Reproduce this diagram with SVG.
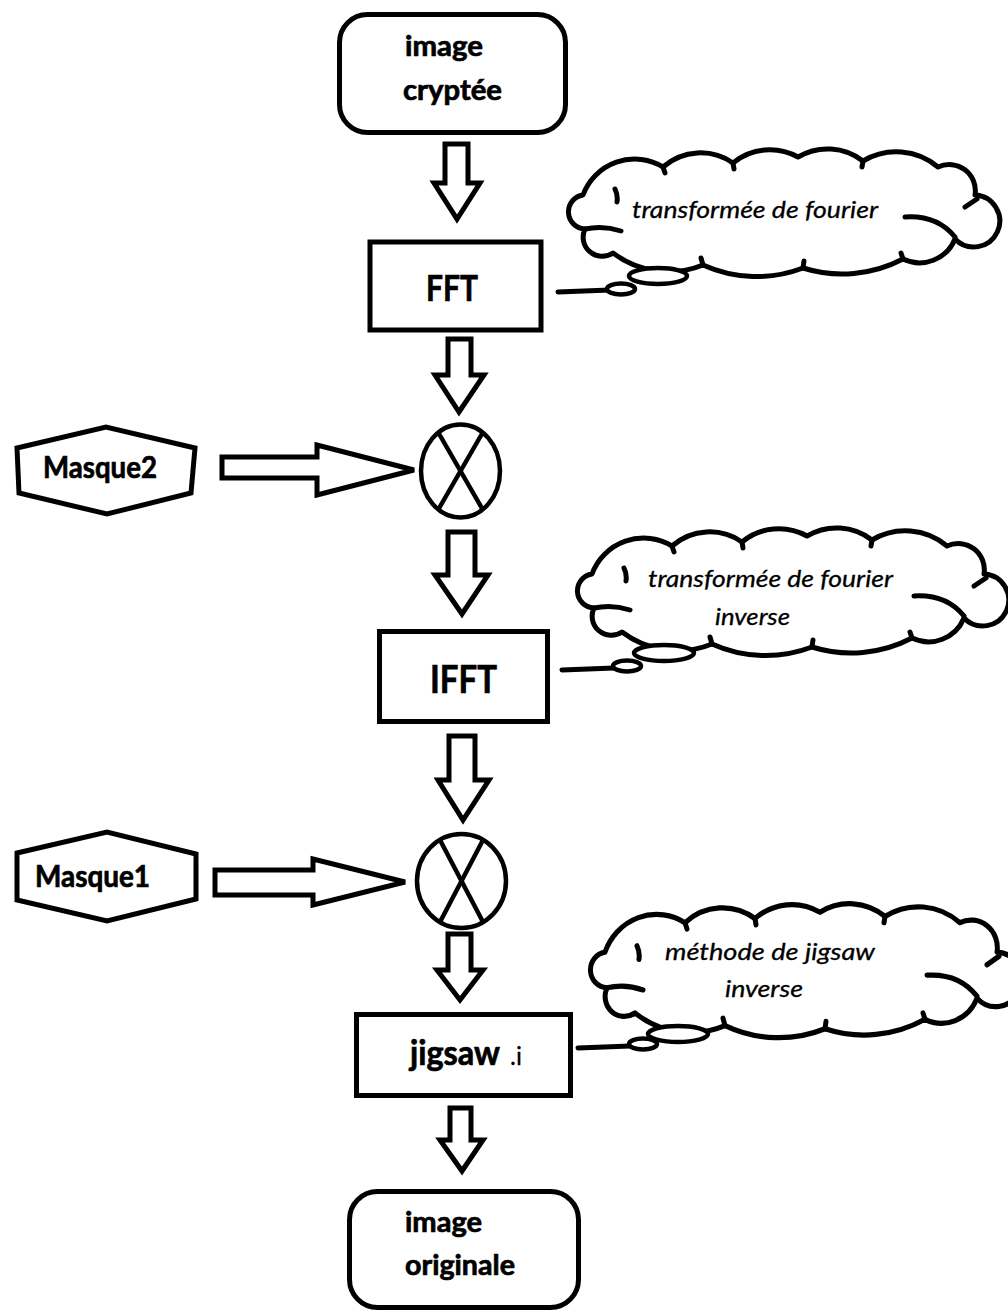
<svg xmlns="http://www.w3.org/2000/svg" xmlns:xlink="http://www.w3.org/1999/xlink" width="1008" height="1312" viewBox="0 0 1008 1312">
  <style>
    .box { fill: #fff; stroke: #000; stroke-width: 5; }
    .arrow { fill: #fff; stroke: #000; stroke-width: 5; stroke-linejoin: miter; }
    .mult { fill: #fff; stroke: #000; stroke-width: 4.5; }
    .cross { stroke: #000; stroke-width: 4.5; }
    .cloud { fill: #fff; stroke: #000; stroke-width: 5; stroke-linejoin: round; }
    .curl { fill: none; stroke: #000; stroke-width: 5; stroke-linecap: round; }
    .tail { stroke: #000; stroke-width: 5; stroke-linecap: round; }
    .bubble { fill: #fff; stroke: #000; stroke-width: 4.5; }
    .lbl { font-family: Lato, "Liberation Sans", sans-serif; font-weight: 700; fill: #000; stroke: #000; stroke-width: 0.7; }
    .small { font-family: Lato, "Liberation Sans", sans-serif; font-weight: 400; fill: #000; stroke: #000; stroke-width: 0.3; }
    .note { font-family: Lato, "Liberation Sans", sans-serif; font-style: italic; font-size: 24px; fill: #000; stroke: #000; stroke-width: 0.3; }
  </style>
  <defs>
    <!-- cloud callout outline, local box about 440 x 119 -->
    <g id="cloud-shape">
      <path class="cloud" d="M22,76 A17.1,17.1 0 0 1 20,42 A55,55 0 0 1 100,14 A57,57 0 0 1 170,10 A58,58 0 0 1 235,4 A58,58 0 0 1 300,8 A65,65 0 0 1 375,14 A26.2,26.2 0 0 1 412,42 A26,26 0 1 1 392,86 A38.3,38.3 0 0 1 340,106 A131,131 0 0 1 240,115 A130,130 0 0 1 140,112 A92,92 0 0 1 50,100 A19.1,19.1 0 0 1 22,76 Z"/>
      <path class="curl" d="M22,76 q18,-4 36,2 M52,36 q3,6 2,13 M342,64 q32,-2 50,20 M414,46 l-12,8 M140,112 l-2,-7 M240,115 l1,-7 M340,106 l-2,-6 M100,14 l2,6 M170,10 l1,6 M300,8 l-1,6"/>
    </g>
  </defs>

  <rect width="1008" height="1312" fill="#fff"/>

  <!-- block arrows between stages -->
  <g id="connectors">
    <path class="arrow" d="M445,144 L468,144 L468,183 L480,183 L457,219 L434,183 L445,183 Z"/>
    <path class="arrow" d="M448,339 L471,339 L471,375 L484,375 L459,412 L435,375 L448,375 Z"/>
    <path class="arrow" d="M448,532 L475,532 L475,575 L488,575 L462,614 L435,575 L448,575 Z"/>
    <path class="arrow" d="M449,736 L475,736 L475,780 L489,780 L463,820 L438,780 L449,780 Z"/>
    <path class="arrow" d="M448,934 L471,934 L471,970 L483,970 L460,1000 L437,970 L448,970 Z"/>
    <path class="arrow" d="M450,1108 L471,1108 L471,1140 L483,1140 L462,1171 L440,1140 L450,1140 Z"/>
    <path class="arrow" d="M222,457 L317,457 L317,445 L414,470 L317,495 L317,478 L222,478 Z"/>
    <path class="arrow" d="M215,870 L313,870 L313,859 L405,882 L313,905 L313,895 L215,895 Z"/>
  </g>

  <g id="node-image-cryptee">
    <rect class="box" x="339.5" y="14.5" width="226" height="118" rx="28"/>
    <text class="lbl" x="405" y="56" font-size="28" textLength="78" lengthAdjust="spacingAndGlyphs">image</text>
    <text class="lbl" x="403" y="100" font-size="28" textLength="99" lengthAdjust="spacingAndGlyphs">cryptée</text>
  </g>

  <g id="node-fft">
    <rect class="box" x="370" y="242" width="171" height="88"/>
    <text class="lbl" x="426" y="301" font-size="37" textLength="52" lengthAdjust="spacingAndGlyphs">FFT</text>
  </g>

  <g id="node-mult2">
    <ellipse class="mult" cx="460.5" cy="471" rx="39.5" ry="46.5"/>
    <line class="cross" x1="438" y1="432" x2="483" y2="510"/>
    <line class="cross" x1="483" y1="432" x2="438" y2="510"/>
  </g>

  <g id="node-masque2">
    <polygon class="box" points="17,448 106,427 195,448 191,493 107,514 19,493"/>
    <text class="lbl" x="43" y="478" font-size="30" textLength="114" lengthAdjust="spacingAndGlyphs">Masque2</text>
  </g>

  <g id="node-ifft">
    <rect class="box" x="379.5" y="631.5" width="168" height="90"/>
    <text class="lbl" x="430" y="693" font-size="39" textLength="67" lengthAdjust="spacingAndGlyphs">IFFT</text>
  </g>

  <g id="node-mult1">
    <ellipse class="mult" cx="461.5" cy="881" rx="44.5" ry="47"/>
    <line class="cross" x1="440" y1="840" x2="483" y2="922"/>
    <line class="cross" x1="483" y1="840" x2="440" y2="922"/>
  </g>

  <g id="node-masque1">
    <polygon class="box" points="17,853 107,832 196,854 196,899 107,921 17,900"/>
    <text class="lbl" x="35" y="887" font-size="30" textLength="115" lengthAdjust="spacingAndGlyphs">Masque1</text>
  </g>

  <g id="node-jigsaw">
    <rect class="box" x="356.5" y="1014.5" width="214" height="81"/>
    <text class="lbl" x="410" y="1065" font-size="34" textLength="90" lengthAdjust="spacingAndGlyphs">jigsaw</text>
    <text class="small" x="510" y="1065" font-size="25">.i</text>
  </g>

  <g id="node-image-originale">
    <rect class="box" x="349.5" y="1191.5" width="229" height="116" rx="28"/>
    <text class="lbl" x="405" y="1232" font-size="28" textLength="77" lengthAdjust="spacingAndGlyphs">image</text>
    <text class="lbl" x="405" y="1275" font-size="28" textLength="110" lengthAdjust="spacingAndGlyphs">originale</text>
  </g>

  <!-- callout clouds -->
  <g id="note-fft">
    <use xlink:href="#cloud-shape" href="#cloud-shape" transform="translate(563,153)"/>
    <line class="tail" x1="558" y1="292" x2="610" y2="290"/>
    <ellipse class="bubble" cx="621" cy="289" rx="14" ry="5.5"/>
    <ellipse class="bubble" cx="658" cy="276" rx="29" ry="8"/>
    <text class="note" x="632" y="218" textLength="246" lengthAdjust="spacingAndGlyphs">transformée de fourier</text>
  </g>

  <g id="note-ifft">
    <use xlink:href="#cloud-shape" href="#cloud-shape" transform="translate(572,532)"/>
    <line class="tail" x1="562" y1="670" x2="614" y2="668"/>
    <ellipse class="bubble" cx="627" cy="666" rx="14" ry="5.5"/>
    <ellipse class="bubble" cx="664" cy="653" rx="30" ry="8"/>
    <text class="note" x="648" y="587" textLength="245" lengthAdjust="spacingAndGlyphs">transformée de fourier</text>
    <text class="note" x="715" y="625" textLength="75" lengthAdjust="spacingAndGlyphs">inverse</text>
  </g>

  <g id="note-jigsaw">
    <use xlink:href="#cloud-shape" href="#cloud-shape" transform="translate(585,908) scale(1,1.05)"/>
    <line class="tail" x1="578" y1="1048" x2="630" y2="1046"/>
    <ellipse class="bubble" cx="643" cy="1044" rx="14" ry="5.5"/>
    <ellipse class="bubble" cx="678" cy="1034" rx="30" ry="8"/>
    <text class="note" x="665" y="960" textLength="210" lengthAdjust="spacingAndGlyphs">méthode de jigsaw</text>
    <text class="note" x="725" y="997" textLength="78" lengthAdjust="spacingAndGlyphs">inverse</text>
  </g>
</svg>
